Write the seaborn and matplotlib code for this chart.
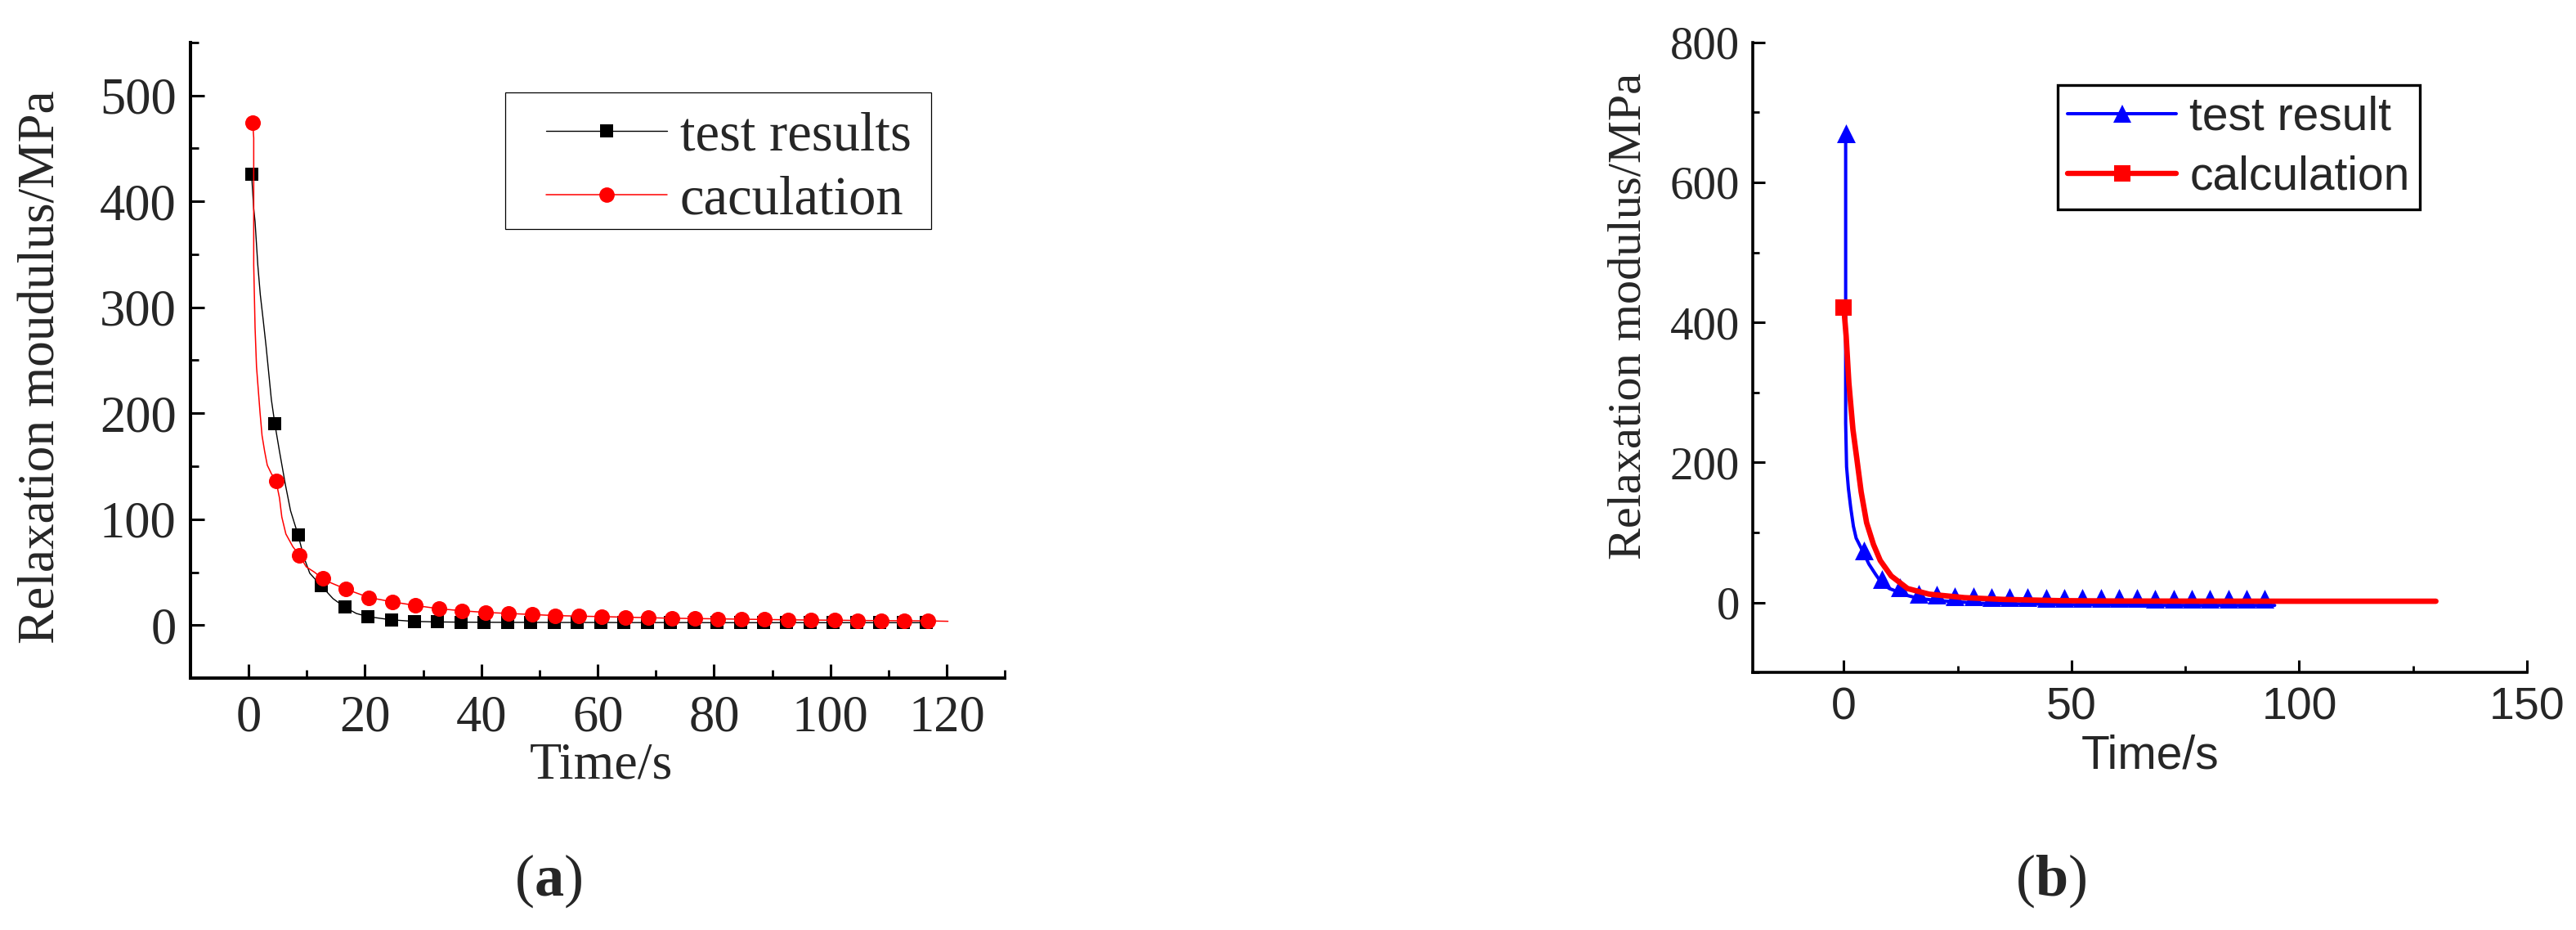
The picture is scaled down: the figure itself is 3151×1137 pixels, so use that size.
import matplotlib
matplotlib.use('Agg')
import matplotlib.pyplot as plt
import seaborn as sns
from matplotlib.lines import Line2D
from matplotlib.patches import Rectangle
from matplotlib.ticker import MultipleLocator

# ---------------------------------------------------------------------------
# Panel (a) data — relaxation modulus vs time
# ---------------------------------------------------------------------------
# markers (every 4 s)
a_test_x = [0.5, 4.5, 8.5, 12.5, 16.5, 20.5, 24.5, 28.5, 32.5, 36.5, 40.5, 44.5, 48.5, 52.5, 56.5,
            60.5, 64.5, 68.5, 72.5, 76.5, 80.5, 84.5, 88.5, 92.5, 96.5, 100.5, 104.5, 108.5, 112.5, 116.5]
a_test_y = [426, 190, 85, 37, 17, 8, 5, 3.5, 3, 2.8, 2.7, 2.6, 2.6, 2.5, 2.5,
            2.5, 2.4, 2.4, 2.4, 2.4, 2.3, 2.3, 2.3, 2.3, 2.3, 2.3, 2.3, 2.3, 2.3, 2.3]
a_calc_x = [0.7, 4.7, 8.7, 12.7, 16.7, 20.7, 24.7, 28.7, 32.7, 36.7, 40.7, 44.7, 48.7, 52.7, 56.7,
            60.7, 64.7, 68.7, 72.7, 76.7, 80.7, 84.7, 88.7, 92.7, 96.7, 100.7, 104.7, 108.7, 112.7, 116.7]
a_calc_y = [474, 136, 66, 44, 34, 26, 22, 18.5, 15.5, 13.5, 12, 11, 10, 9, 8.5,
            8, 7.5, 7, 6.5, 6.2, 5.9, 5.6, 5.3, 5, 4.8, 4.6, 4.4, 4.2, 4.1, 4.0]

# curve vertices in the steep part (read between the markers)
a_test_head_x = [0.5, 0.87, 1.1, 1.57, 2.0, 2.5, 3.0, 3.45, 3.9, 4.5, 5.3, 6.3, 7.2, 8.5,
                 9.5, 10.5, 12.5, 14.5, 16.5, 18.5]
a_test_head_y = [426, 393, 381, 340, 312, 288, 263, 238, 213, 190, 164, 133, 108, 85,
                 64, 49, 37, 25, 17, 11]
a_calc_head_x = [0.7, 0.87, 0.87, 1.1, 1.35, 1.6, 1.95, 2.3, 2.75, 3.2, 3.9, 4.7, 5.3, 5.7,
                 6.4, 7.6, 8.7, 9.9, 11.3, 12.7, 14.1]
a_calc_head_y = [474, 460, 340, 281, 244, 226, 201, 179, 164, 151, 143, 136, 120, 102,
                 86, 74, 66, 55, 50, 44, 40]
a_calc_end_x = [120.2]
a_calc_end_y = [3.6]

# ---------------------------------------------------------------------------
# Panel (b) data
# ---------------------------------------------------------------------------
b_test_line_x = [0.4, 0.4, 0.6, 1.0, 1.5, 2.1, 2.7, 4.4, 5.5, 7.0, 8.4, 10.0, 12.4, 14.0,
                 16.4, 20.4, 25, 30, 40, 50, 60, 70, 80, 94.6]
b_test_line_y = [670, 256, 194, 163, 136, 109, 92, 70, 55, 40, 27, 20, 14, 10,
                 6, 3, 1, -1, -2, -3, -3.5, -4, -4, -4]
b_test_x = [0.4, 4.4, 8.4, 12.4, 16.4, 20.4, 24.4, 28.4, 32.4, 36.4, 40.4, 44.4,
            48.4, 52.4, 56.4, 60.4, 64.4, 68.4, 72.4, 76.4, 80.4, 84.4, 88.4, 92.4]
b_test_y = [670, 74, 34, 22, 13, 11, 9, 8.5, 8, 7.5, 7.5, 7,
            7, 7, 6.5, 6.5, 6.5, 6, 6, 6, 6, 5.5, 5.5, 5.5]
b_calc_x = [0, 0.5, 1.1, 2.0, 2.9, 3.8, 5.0, 6.5, 8.0, 10.4, 14.0, 18.7, 26.5, 35, 47.5,
            60, 80, 100, 130]
b_calc_y = [421, 381, 314, 247, 203, 158, 114, 83, 60, 38, 20, 12, 7, 4.5, 2.7,
            2.2, 2.0, 1.9, 1.9]
b_calc_mark_x = [0]
b_calc_mark_y = [421]

# ---------------------------------------------------------------------------
# Styling
# ---------------------------------------------------------------------------
SERIF = ['Liberation Serif', 'DejaVu Serif']
SANS = ['Liberation Sans', 'DejaVu Sans']
W, H = 3151, 1137

sns.set_style('white')
plt.rcParams['font.family'] = SERIF
plt.rcParams['mathtext.fontset'] = 'custom'
plt.rcParams['mathtext.rm'] = 'Liberation Serif'
plt.rcParams['mathtext.bf'] = 'Liberation Serif:bold'

fig = plt.figure(figsize=(W / 100, H / 100), dpi=100)
fig.patch.set_facecolor('white')


def px_axes(left, top, right, bottom):
    return fig.add_axes([left / W, 1 - bottom / H, (right - left) / W, (bottom - top) / H])


def style_axes(ax, lw_spine, major_len, minor_len):
    for side in ['top', 'right']:
        ax.spines[side].set_visible(False)
    for side in ['left', 'bottom']:
        ax.spines[side].set_linewidth(lw_spine)
        ax.spines[side].set_color('black')
    ax.tick_params(which='both', bottom=True, left=True, top=False, right=False)
    ax.tick_params(which='major', direction='in', length=major_len, width=2.2, color='black')
    ax.tick_params(which='minor', direction='in', length=minor_len, width=2.0, color='black')
    ax.grid(False)
    ax.set_facecolor('white')


# ---------------------------------------------------------------------------
# Panel (a)
# ---------------------------------------------------------------------------
ax = px_axes(233, 52, 1229.3, 829)
test_line_x = a_test_head_x + a_test_x[5:]
test_line_y = a_test_head_y + a_test_y[5:]
calc_line_x = a_calc_head_x + a_calc_x[4:] + a_calc_end_x
calc_line_y = a_calc_head_y + a_calc_y[4:] + a_calc_end_y

sns.lineplot(x=test_line_x, y=test_line_y, sort=False, estimator=None, color='black',
             linewidth=1.0, ax=ax, legend=False, zorder=2)
sns.scatterplot(x=a_test_x, y=a_test_y, marker='s', s=11.5 ** 2, color='black',
                linewidth=0, ax=ax, legend=False, zorder=3)
sns.lineplot(x=calc_line_x, y=calc_line_y, sort=False, estimator=None, color='red',
             linewidth=1.1, ax=ax, legend=False, zorder=4)
sns.scatterplot(x=a_calc_x, y=a_calc_y, marker='o', s=13.7 ** 2, color='red',
                linewidth=0, ax=ax, legend=False, zorder=5)

ax.set_xlim(-10, 130)
ax.set_ylim(-50, 550)
ax.xaxis.set_major_locator(MultipleLocator(20))
ax.xaxis.set_minor_locator(MultipleLocator(10))
ax.yaxis.set_major_locator(MultipleLocator(100))
ax.yaxis.set_minor_locator(MultipleLocator(50))
style_axes(ax, 2.9, 12, 7)
ax.set_xticks([0, 20, 40, 60, 80, 100, 120])
ax.set_yticks([0, 100, 200, 300, 400, 500])
ax.tick_params(axis='x', which='major', pad=14.5, labelsize=45)
ax.tick_params(axis='y', which='major', pad=12.5, labelsize=45)
for lab in ax.get_xticklabels() + ax.get_yticklabels():
    lab.set_family(SERIF)

ax.set_xlabel('Time/s', fontsize=46, family=SERIF)
ax.xaxis.label.set_va('baseline')
ax.xaxis.set_label_coords(0.504, -0.1583)
ax.set_ylabel('Relaxation moudulus/MPa', fontsize=45.5, family=SERIF)
ax.yaxis.label.set_va('center')
ax.yaxis.set_label_coords(-0.1817, 0.49)

handles_a = [
    Line2D([], [], color='black', linewidth=1.0, marker='s', markersize=12, markeredgewidth=0),
    Line2D([], [], color='red', linewidth=1.1, marker='o', markersize=13.5, markeredgewidth=0),
]
# frameless legend, rows centred between the two reference rows; box drawn separately
ax.legend(handles_a, ['test results', 'caculation'], loc='center left',
          bbox_to_anchor=(668 / W, 1 - 206 / H), bbox_transform=fig.transFigure,
          borderaxespad=0, borderpad=0, handlelength=2.22, handletextpad=0.24,
          labelspacing=0.25, frameon=False, prop={'family': SERIF, 'size': 48})
fig.add_artist(Rectangle((618 / W, 1 - 280 / H), (1139 - 618) / W, (280 - 112.7) / H,
                         transform=fig.transFigure, fill=False, edgecolor='black',
                         linewidth=0.9, zorder=10))

# ---------------------------------------------------------------------------
# Panel (b)
# ---------------------------------------------------------------------------
ax = px_axes(2144, 51.7, 3091, 822.3)
sns.lineplot(x=b_test_line_x, y=b_test_line_y, sort=False, estimator=None, color='blue',
             linewidth=2.9, ax=ax, legend=False, zorder=2)
sns.scatterplot(x=b_test_x, y=b_test_y, marker='^', s=16.5 ** 2, color='blue',
                linewidth=0, ax=ax, legend=False, zorder=3)
sns.lineplot(x=b_calc_x, y=b_calc_y, sort=False, estimator=None, color='red',
             linewidth=4.8, ax=ax, legend=False, zorder=4)
sns.scatterplot(x=b_calc_mark_x, y=b_calc_mark_y, marker='s', s=13.7 ** 2, color='red',
                linewidth=0, ax=ax, legend=False, zorder=5)
for line in ax.get_lines():
    line.set_solid_capstyle('round')

ax.set_xlim(-20, 150)
ax.set_ylim(-100, 800)
ax.xaxis.set_major_locator(MultipleLocator(50))
ax.xaxis.set_minor_locator(MultipleLocator(25))
ax.yaxis.set_major_locator(MultipleLocator(200))
ax.yaxis.set_minor_locator(MultipleLocator(100))
style_axes(ax, 2.6, 11, 6)
ax.set_xticks([0, 50, 100, 150])
ax.set_yticks([0, 200, 400, 600, 800])
ax.tick_params(axis='x', which='major', pad=12.5, labelsize=40)
ax.tick_params(axis='y', which='major', pad=11.5, labelsize=41)
for lab in ax.get_xticklabels():
    lab.set_family(SANS)
for lab in ax.get_yticklabels():
    lab.set_family(SERIF)

ax.set_xlabel('Time/s', fontsize=41, family=SANS)
ax.xaxis.label.set_va('baseline')
ax.xaxis.set_label_coords(0.513, -0.1527)
ax.set_ylabel('Relaxation modulus/MPa', fontsize=42, family=SERIF)
ax.yaxis.label.set_va('center')
ax.yaxis.set_label_coords(-0.1605, 0.566)

handles_b = [
    Line2D([], [], color='blue', linewidth=2.9, marker='^', markersize=16.5, markeredgewidth=0,
           solid_capstyle='round'),
    Line2D([], [], color='red', linewidth=4.6, marker='s', markersize=13.7, markeredgewidth=0,
           solid_capstyle='round'),
]
leg = ax.legend(handles_b, ['test result', 'calculation'], loc='upper left',
                bbox_to_anchor=(2516.7 / W, 1 - 104 / H), bbox_transform=fig.transFigure,
                borderaxespad=0, borderpad=0.22, handlelength=2.34, handletextpad=0.28,
                labelspacing=0.34, fancybox=False, framealpha=1, edgecolor='black',
                prop={'family': SANS, 'size': 41})
leg.get_frame().set_linewidth(2.4)

# panel captions
fig.text(671 / W, 1 - 1077 / H, r'$\mathrm{(}\mathbf{a}\mathrm{)}$', fontsize=52,
         ha='center', va='center')
fig.text(2509 / W, 1 - 1077 / H, r'$\mathrm{(}\mathbf{b}\mathrm{)}$', fontsize=52,
         ha='center', va='center')

fig.savefig('out.png', dpi=100, facecolor='white')
plt.close(fig)
print("Saved: out.png")
